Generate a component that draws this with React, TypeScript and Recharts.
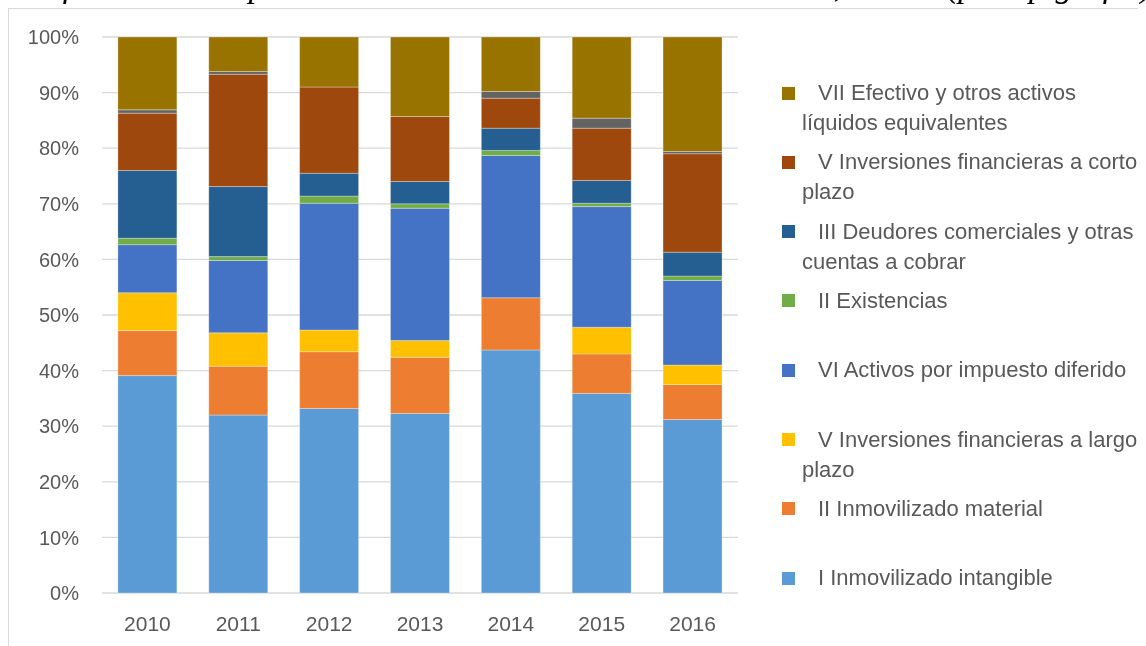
import React from 'react';
import {
  BarChart,
  Bar,
  XAxis,
  YAxis,
  CartesianGrid,
  Legend,
} from 'recharts';

// Composición del activo (porcentaje sobre el total)
const years = ['2010', '2011', '2012', '2013', '2014', '2015', '2016'];
const inmovIntangible = [39.1, 32.0, 33.2, 32.3, 43.7, 35.9, 31.2];
const inmovMaterial = [8.1, 8.8, 10.2, 10.1, 9.4, 7.1, 6.3];
const invLargoPlazo = [6.8, 6.0, 3.9, 3.0, 0, 4.8, 3.5];
const impuestoDiferido = [8.65, 13.0, 22.8, 23.8, 25.6, 21.7, 15.2];
const existencias = [1.15, 0.7, 1.3, 0.8, 0.9, 0.6, 0.8];
const deudores = [12.2, 12.6, 4.1, 4.0, 4.0, 4.1, 4.3];
const invCortoPlazo = [10.3, 20.2, 15.5, 11.7, 5.4, 9.4, 17.7];
const otros = [0.6, 0.5, 0, 0, 1.2, 1.8, 0.4];
const efectivo = [13.1, 6.2, 9.0, 14.3, 9.8, 14.6, 20.6];
const yTicks = [0, 0.1, 0.2, 0.3, 0.4, 0.5, 0.6, 0.7, 0.8, 0.9, 1];

const TITLE = 'Gráfico 4.4: Composición del Activo del Sevilla Fútbol Club, S.A.D. (por epígrafes)';

// series de abajo hacia arriba
const series = [
  { key: 'intangible', name: 'I Inmovilizado intangible', color: '#5B9BD5', values: inmovIntangible, lines: ['I Inmovilizado intangible'] },
  { key: 'material', name: 'II Inmovilizado material', color: '#ED7D31', values: inmovMaterial, lines: ['II Inmovilizado material'] },
  { key: 'largo', name: 'V Inversiones financieras a largo plazo', color: '#FFC000', values: invLargoPlazo, lines: ['V Inversiones financieras a largo', 'plazo'] },
  { key: 'diferido', name: 'VI Activos por impuesto diferido', color: '#4472C4', values: impuestoDiferido, lines: ['VI Activos por impuesto diferido'] },
  { key: 'existencias', name: 'II Existencias', color: '#70AD47', values: existencias, lines: ['II Existencias'] },
  { key: 'deudores', name: 'III Deudores comerciales y otras cuentas a cobrar', color: '#255E91', values: deudores, lines: ['III Deudores comerciales y otras', 'cuentas a cobrar'] },
  { key: 'corto', name: 'V Inversiones financieras a corto plazo', color: '#9E480E', values: invCortoPlazo, lines: ['V Inversiones financieras a corto', 'plazo'] },
  { key: 'otros', name: 'Otros', color: '#636363', values: otros, lines: [] as string[], hidden: true },
  { key: 'efectivo', name: 'VII Efectivo y otros activos líquidos equivalentes', color: '#997300', values: efectivo, lines: ['VII Efectivo y otros activos', 'líquidos equivalentes'] },
];

const data = years.map((year, i) => {
  const row: Record<string, string | number> = { year };
  series.forEach(s => {
    row[s.key] = s.values[i];
  });
  return row;
});

const TEXT = '#595959';
const FONT = '"Liberation Sans", Arial, sans-serif';

const LegendBox = () => {
  const items = series.filter(s => !s.hidden).reverse();
  return (
    <div style={{ position: 'relative', fontFamily: FONT, fontSize: 22, color: TEXT }}>
      {items.map((s, i) => (
        <div key={s.key} style={{ position: 'absolute', left: 0, top: 69 + i * 69.3, width: 380 }}>
          <span
            style={{
              position: 'absolute',
              left: 0,
              top: 8.5,
              width: 13,
              height: 13,
              background: s.color,
            }}
          />
          {s.lines.map((line, j) => (
            <div
              key={j}
              style={{ height: 30, lineHeight: '30px', paddingLeft: j === 0 ? 36 : 20, whiteSpace: 'nowrap' }}
            >
              {line}
            </div>
          ))}
        </div>
      ))}
    </div>
  );
};

export default function App() {
  return (
    <div style={{ position: 'relative', width: 1137, height: 638 }}>
      {/* pie de figura del documento, cortado por arriba como en el original */}
      <div
        style={{
          position: 'fixed',
          left: 8,
          top: -31,
          whiteSpace: 'nowrap',
          fontFamily: '"Liberation Serif", "Times New Roman", serif',
          fontStyle: 'italic',
          fontSize: 34,
          lineHeight: '34px',
          color: '#000',
        }}
      >
        {TITLE}
      </div>
      <div
        style={{
          position: 'absolute',
          left: 0,
          top: 0,
          width: 1137,
          height: 638,
          boxSizing: 'border-box',
          borderLeft: '1px solid #D9D9D9',
          borderTop: '1px solid #D9D9D9',
        }}
      >
        <BarChart
          width={1136}
          height={637}
          data={data}
          stackOffset="expand"
          barCategoryGap="17.5%"
          margin={{ top: 28, right: 407, bottom: 13, left: 0 }}
        >
          <CartesianGrid vertical={false} stroke="#D9D9D9" strokeWidth={1.3} />
          <XAxis
            dataKey="year"
            axisLine={false}
            tickLine={false}
            tickSize={0}
            tickMargin={23}
            height={40}
            tick={{ fill: TEXT, fontSize: 21, fontFamily: FONT }}
          />
          <YAxis
            domain={[0, 1]}
            ticks={yTicks}
            tickFormatter={(v: number) => `${Math.round(v * 100)}%`}
            axisLine={false}
            tickLine={false}
            tickSize={0}
            tickMargin={23}
            width={93}
            tick={{ fill: TEXT, fontSize: 20, fontFamily: FONT }}
          />
          <Legend
            layout="vertical"
            align="center"
            verticalAlign="middle"
            wrapperStyle={{ left: 773, top: 0, width: 360, height: 600 }}
            content={() => <LegendBox />}
          />
          {series.map(s => (
            <Bar
              key={s.key}
              dataKey={s.key}
              name={s.name}
              stackId="a"
              fill={s.color}
              stroke="#ffffff"
              strokeOpacity={0.3}
              strokeWidth={1}
              legendType={s.hidden ? 'none' : 'square'}
              isAnimationActive={false}
            />
          ))}
        </BarChart>
      </div>
    </div>
  );
}
